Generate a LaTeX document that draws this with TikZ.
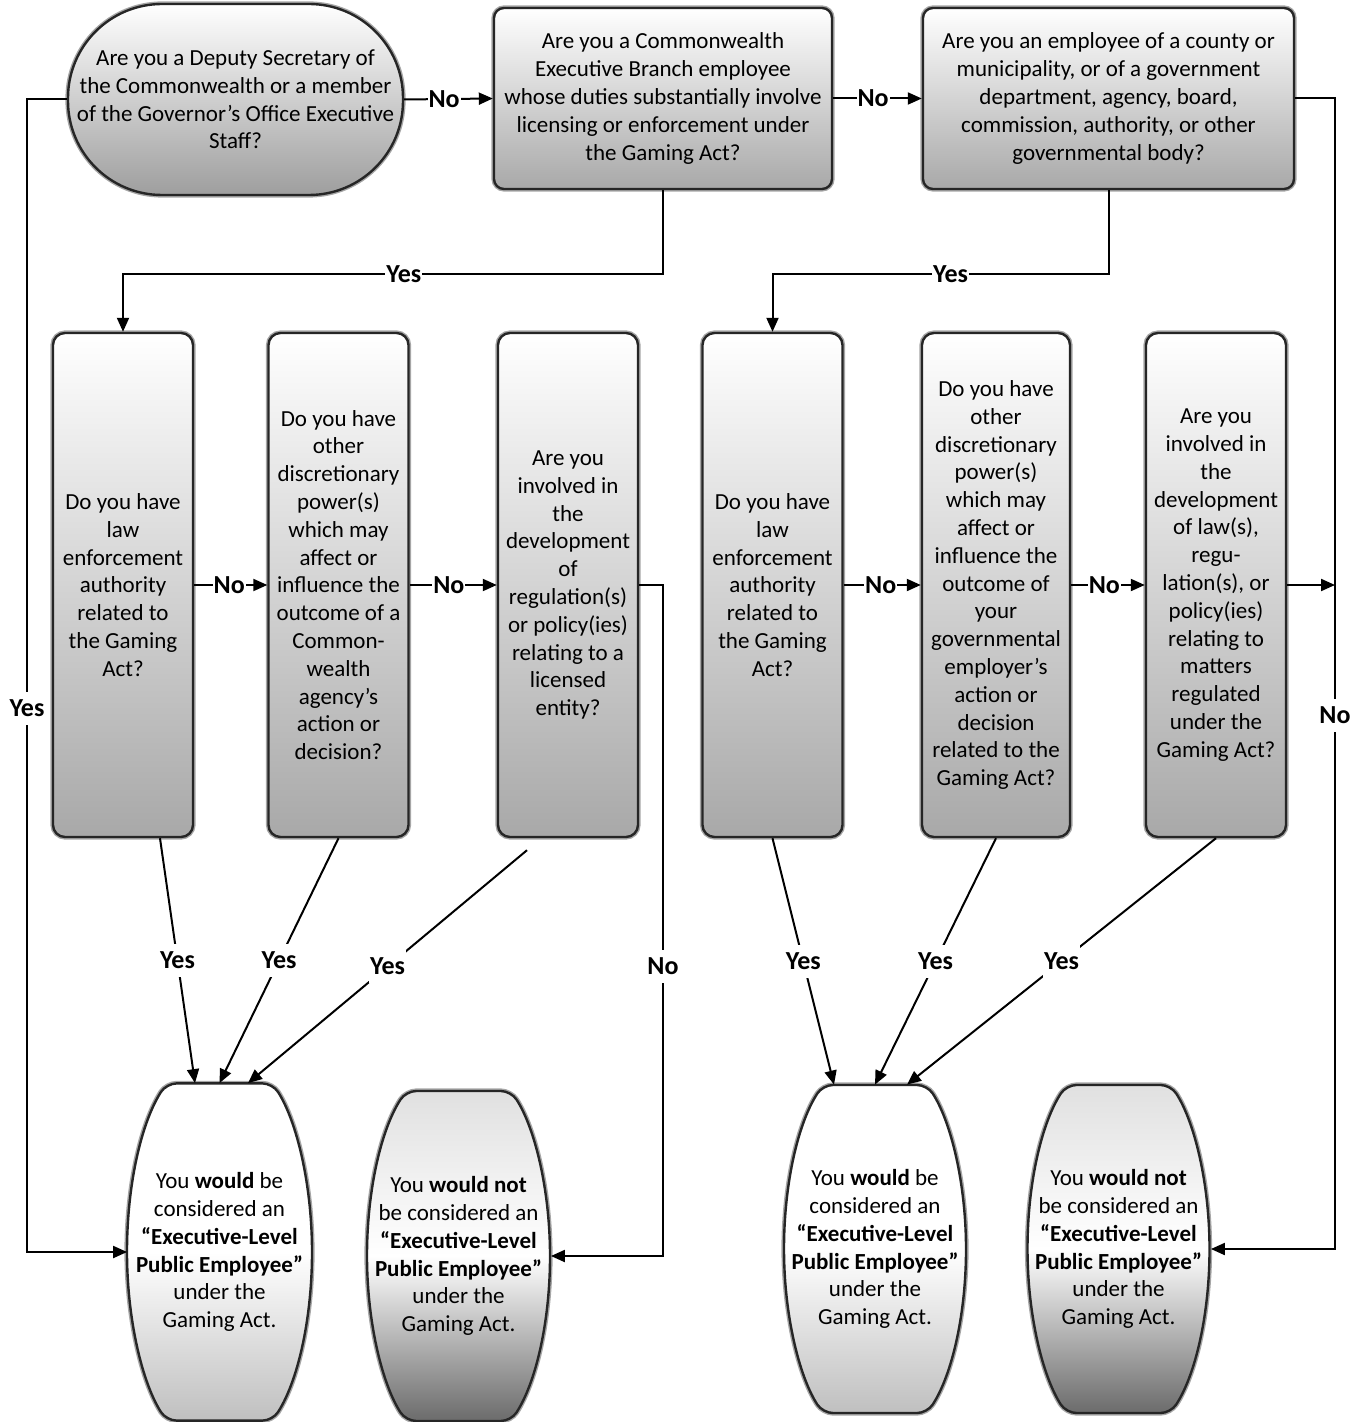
\documentclass[tikz,border=0pt]{standalone}
\usepackage{fontspec}
\setmainfont{Carlito}
\usetikzlibrary{arrows.meta,backgrounds}

% barrel outline behind an end node: name, style, x radius, y radius
\newcommand{\barrel}[4]{%
  \path[#2,rounded corners=5pt] (#1.center) ++(-55:#3 and #4)
    arc[start angle=-55,end angle=55,x radius=#3,y radius=#4]
    -- ([shift={(125:#3 and #4)}]#1.center)
    arc[start angle=125,end angle=235,x radius=#3,y radius=#4] -- cycle;}

\begin{document}
\begin{tikzpicture}
[x=0.5pt,y=0.5pt,>={Triangle[length=7pt,width=6pt]},
 font=\fontsize{11.5}{13.9}\selectfont,
 boxline/.style={draw=black!85,line width=1.2pt,preaction={draw=black!35,line width=2.6pt}},
 entry/.style={boxline,rectangle,rounded corners=47pt,top color=white,bottom color=black!38,
   align=center,minimum width=167.5pt,minimum height=95.5pt,inner sep=2pt},
 ask/.style={boxline,rectangle,rounded corners=5pt,top color=white,bottom color=black!34,
   align=center,minimum height=90.5pt,inner sep=2pt},
 qtall/.style={boxline,rectangle,rounded corners=6pt,top color=white,bottom color=black!34,
   align=center,minimum width=70pt,minimum height=252pt,inner sep=1pt},
 endbox/.style={rectangle,inner sep=0pt,minimum width=92pt,align=center},
 endyes/.style={boxline,top color=white,bottom color=black!25,middle color=white},
 endno/.style={boxline,top color=black!12,bottom color=black!58,middle color=white},
 lbl/.style={fill=white,inner xsep=0.5pt,inner ysep=4pt,font=\fontsize{13}{15}\selectfont\bfseries},
 link/.style={->,line width=1pt}]
\useasboundingbox (0,0) rectangle (1364,-1422);

% top row
\node[entry] (q1) at (235.5,-99.5) {Are you a Deputy Secretary of\\the Commonwealth or a member\\of the Governor’s Office Executive\\Staff?};
\node[ask,minimum width=169pt] (q2) at (663,-98.5) {Are you a Commonwealth\\Executive Branch employee\\whose duties substantially involve\\licensing or enforcement under\\the Gaming Act?};
\node[ask,minimum width=185.5pt] (q3) at (1108.5,-98.5) {Are you an employee of a county or\\municipality, or of a government\\department, agency, board,\\commission, authority, or other\\governmental body?};

% middle row
\node[qtall] (d1) at (123,-585) {Do you have\\law\\enforcement\\authority\\related to\\the Gaming\\Act?};
\node[qtall] (d2) at (338.5,-585) {Do you have\\other\\discretionary\\power(s)\\which may\\affect or\\influence the\\outcome of a\\Common-\\wealth\\agency’s\\action or\\decision?};
\node[qtall] (d3) at (568,-585) {Are you\\involved in\\the\\development\\of\\regulation(s)\\or policy(ies)\\relating to a\\licensed\\entity?};
\node[qtall] (d4) at (772.5,-585) {Do you have\\law\\enforcement\\authority\\related to\\the Gaming\\Act?};
\node[qtall,minimum width=74pt] (d5) at (996,-585) {Do you have\\other\\discretionary\\power(s)\\which may\\affect or\\influence the\\outcome of\\your\\governmental\\employer’s\\action or\\decision\\related to the\\Gaming Act?};
\node[qtall] (d6) at (1216,-585) {Are you\\involved in\\the\\development\\of law(s),\\regu-\\lation(s), or\\policy(ies)\\relating to\\matters\\regulated\\under the\\Gaming Act?};

% end nodes
\node[endbox,minimum height=168.5pt] (t1) at (219.5,-1252) {You \textbf{would} be\\considered an\\\textbf{“Executive-Level}\\\textbf{Public Employee”}\\under the\\Gaming Act.};
\node[endbox,minimum height=165pt] (t2) at (458.5,-1256) {You \textbf{would not}\\be considered an\\\textbf{“Executive-Level}\\\textbf{Public Employee”}\\under the\\Gaming Act.};
\node[endbox,minimum height=164pt] (t3) at (875,-1249) {You \textbf{would} be\\considered an\\\textbf{“Executive-Level}\\\textbf{Public Employee”}\\under the\\Gaming Act.};
\node[endbox,minimum height=164pt] (t4) at (1118.5,-1249) {You \textbf{would not}\\be considered an\\\textbf{“Executive-Level}\\\textbf{Public Employee”}\\under the\\Gaming Act.};

\begin{scope}[on background layer]
\barrel{t1}{endyes}{46.25pt}{102.9pt}
\barrel{t2}{endno}{45.75pt}{100.7pt}
\barrel{t3}{endyes}{45.5pt}{100.1pt}
\barrel{t4}{endno}{45.5pt}{100.1pt}
\end{scope}

% connectors
\coordinate (lx) at (27,-1252);
\coordinate (mx) at (663,-1256);
\coordinate (rx) at (1335,-1249);

\draw[link] (q1.east) -- node[lbl,pos=0.45]{No} (q2.west);
\draw[link] (q2.east) -- node[lbl,pos=0.45]{No} (q3.west);
\draw[link] (q2.south) -- ++(0,-83.5) -| node[lbl,pos=0.24]{Yes} (d1.north);
\draw[link] (q3.south) -- ++(0,-83.5) -| node[lbl,pos=0.235]{Yes} (d4.north);
\draw[link] (q1.west) -| node[lbl,pos=0.764]{Yes} (lx) -- (t1.west);
\draw[link] (q3.east) -| node[lbl,pos=0.768]{No} (rx) -- (t4.east);

\draw[link] (d1) -- node[lbl,pos=0.48]{No} (d2);
\draw[link] (d2) -- node[lbl,pos=0.45]{No} (d3);
\draw[link] (d4) -- node[lbl,pos=0.48]{No} (d5);
\draw[link] (d5) -- node[lbl,pos=0.45]{No} (d6);
\draw[link] (d6.east) -- (d6.east -| rx);
\draw[link] (d3.east) -| node[lbl,pos=0.784]{No} (mx) -- (t2.east);

\draw[link] ([xshift=18.5pt]d1.south) -- node[lbl]{Yes} ([xshift=-12.25pt]t1.north);
\draw[link] (d2.south) -- node[lbl]{Yes} (t1.north);
\draw[link] ([xshift=-20.5pt,yshift=-6pt]d3.south) -- node[lbl]{Yes} ([xshift=14.25pt]t1.north);
\draw[link] (d4.south) -- node[lbl]{Yes} ([xshift=-20.5pt]t3.north);
\draw[link] (d5.south) -- node[lbl]{Yes} (t3.north);
\draw[link] (d6.south) -- node[lbl]{Yes} ([xshift=16pt]t3.north);
\end{tikzpicture}
\end{document}
